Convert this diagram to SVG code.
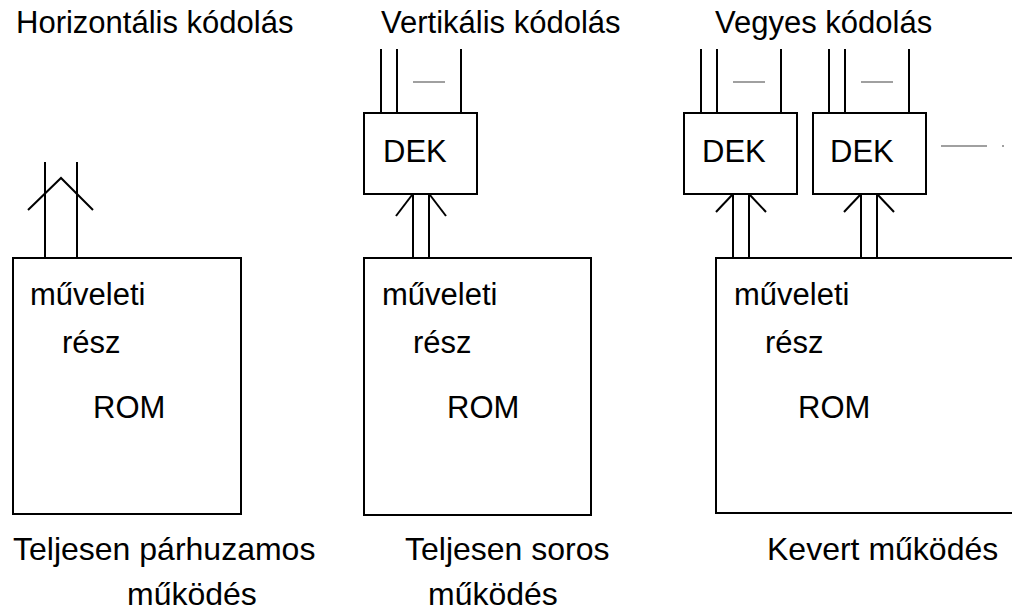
<svg xmlns="http://www.w3.org/2000/svg" width="1012" height="614" viewBox="0 0 1012 614">
<style>
text{font-family:"Liberation Sans",Arial,sans-serif;font-size:31px;fill:#000}
.cap{font-size:32px}
.box{fill:#fff;stroke:#000;stroke-width:2}
.ln{stroke:#000;stroke-width:2;fill:none}
.gr{stroke:#808080;stroke-width:1.5;fill:none}
</style>
<rect width="1012" height="614" fill="#fff"/>
<g id="titles">
<text x="16" y="33">Horizontális kódolás</text>
<text x="381" y="33">Vertikális kódolás</text>
<text x="715" y="33">Vegyes kódolás</text>
</g>
<g id="connectors">
<line class="ln" x1="45" y1="162" x2="45" y2="258"/>
<line class="ln" x1="77" y1="162" x2="77" y2="258"/>
<polyline class="ln" points="28,210 61,178 93,210"/>
<line class="ln" x1="381" y1="49" x2="381" y2="113"/>
<line class="ln" x1="397" y1="49" x2="397" y2="113"/>
<line class="ln" x1="461" y1="49" x2="461" y2="113"/>
<line class="gr" x1="413" y1="82" x2="445" y2="82"/>
<line class="ln" x1="413" y1="194" x2="413" y2="258"/>
<line class="ln" x1="429" y1="194" x2="429" y2="258"/>
<line class="ln" x1="412" y1="195" x2="396" y2="216"/>
<line class="ln" x1="430" y1="195" x2="446" y2="216"/>
<line class="ln" x1="701" y1="49" x2="701" y2="113"/>
<line class="ln" x1="717" y1="49" x2="717" y2="113"/>
<line class="ln" x1="781" y1="49" x2="781" y2="113"/>
<line class="gr" x1="733" y1="82" x2="765" y2="82"/>
<line class="ln" x1="829" y1="49" x2="829" y2="113"/>
<line class="ln" x1="845" y1="49" x2="845" y2="113"/>
<line class="ln" x1="909" y1="49" x2="909" y2="113"/>
<line class="gr" x1="861" y1="82" x2="893" y2="82"/>
<line class="gr" x1="941" y1="146" x2="987" y2="146"/>
<line class="gr" x1="1002" y1="146" x2="1004" y2="146"/>
<line class="ln" x1="733" y1="194" x2="733" y2="258"/>
<line class="ln" x1="749" y1="194" x2="749" y2="258"/>
<line class="ln" x1="732" y1="195" x2="716" y2="212"/>
<line class="ln" x1="750" y1="195" x2="766" y2="212"/>
<line class="ln" x1="861" y1="194" x2="861" y2="258"/>
<line class="ln" x1="877" y1="194" x2="877" y2="258"/>
<line class="ln" x1="860" y1="195" x2="844" y2="212"/>
<line class="ln" x1="878" y1="195" x2="894" y2="212"/>
</g>
<g id="rom1">
<rect class="box" x="13" y="258" width="228" height="256"/>
<text x="30" y="305">műveleti</text>
<text x="62" y="353">rész</text>
<text x="93" y="418">ROM</text>
</g>
<g id="dek1">
<rect class="box" x="364" y="113" width="113" height="81"/>
<text x="383" y="162">DEK</text>
</g>
<g id="rom2">
<rect class="box" x="364" y="258" width="227" height="257"/>
<text x="382" y="305">műveleti</text>
<text x="413" y="353">rész</text>
<text x="447" y="418">ROM</text>
</g>
<g id="dek2">
<rect class="box" x="684" y="113" width="113" height="81"/>
<text x="702" y="162">DEK</text>
</g>
<g id="dek3">
<rect class="box" x="813" y="113" width="113" height="81"/>
<text x="830" y="162">DEK</text>
</g>
<g id="rom3">
<rect class="box" x="716" y="258" width="310" height="255"/>
<text x="734" y="305">műveleti</text>
<text x="765" y="353">rész</text>
<text x="798" y="418">ROM</text>
</g>
<g id="captions">
<text class="cap" x="13" y="560">Teljesen párhuzamos</text>
<text class="cap" x="127" y="605">működés</text>
<text class="cap" x="405" y="560">Teljesen soros</text>
<text class="cap" x="428" y="605">működés</text>
<text class="cap" x="767" y="560">Kevert működés</text>
</g>
</svg>
